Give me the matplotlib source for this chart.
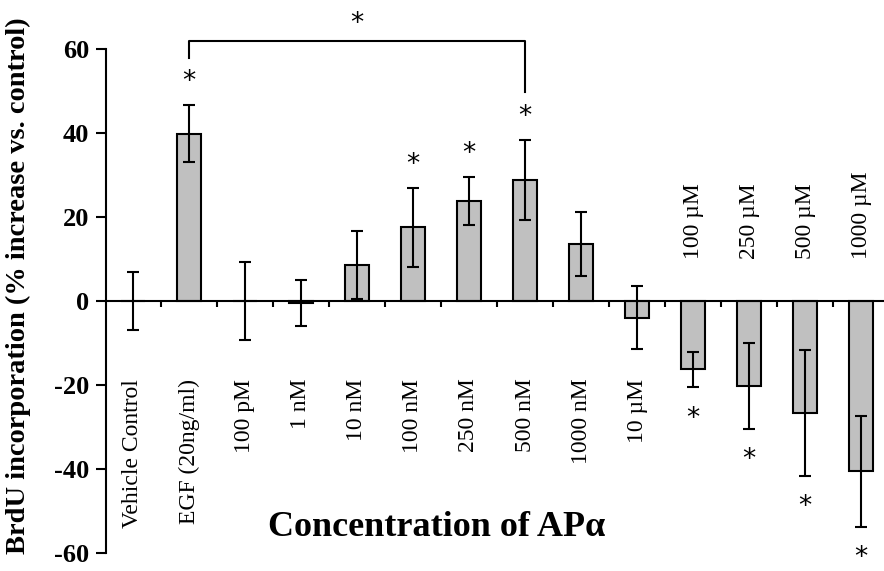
import matplotlib.pyplot as plt
import numpy as np

# categories and values
labels = ['Vehicle Control', 'EGF (20ng/ml)', '100 pM', '1 nM', '10 nM', '100 nM',
          '250 nM', '500 nM', '1000 nM', '10 µM', '100 µM', '250 µM', '500 µM', '1000 µM']
means = [0, 39.8, 0, -0.5, 8.6, 17.6, 23.8, 28.8, 13.6, -4.0, -16.3, -20.2, -26.6, -40.6]
errors = [7.0, 6.8, 9.2, 5.5, 8.0, 9.4, 5.7, 9.5, 7.7, 7.5, 4.2, 10.2, 15.0, 13.2]
signif = [False, True, False, False, False, True, True, True, False, False, True, True, True, True]

serif = ['Liberation Serif', 'DejaVu Serif']

fig = plt.figure(figsize=(8.84, 5.71), dpi=100)
ax = fig.add_axes([0.12, 0.0, 0.88, 1.0])

x = np.arange(len(labels))
ax.bar(x, means, width=0.43, color='#c0c0c0', edgecolor='black', linewidth=1.5, zorder=2)
ax.errorbar(x, means, yerr=errors, fmt='none', ecolor='black', elinewidth=1.5,
            capsize=4.5, capthick=1.5, zorder=3)

ax.set_xlim(-0.48, 13.41)
ax.set_ylim(-64.3, 71.7)

# spines
ax.spines['top'].set_visible(False)
ax.spines['right'].set_visible(False)
ax.spines['bottom'].set_position(('data', 0))
ax.spines['bottom'].set_linewidth(1.5)
ax.spines['left'].set_linewidth(1.5)
ax.spines['left'].set_bounds(-60, 60)

ax.set_yticks(np.arange(-60, 61, 20))
ax.set_yticklabels([str(v) for v in range(-60, 61, 20)], fontfamily=serif,
                   fontweight='bold', fontsize=19)
ax.tick_params(axis='y', direction='out', length=7, width=1.5, pad=5)
ax.set_xticks(x[:-1] + 0.5)
ax.set_xticklabels([])
ax.tick_params(axis='x', direction='out', length=4.5, width=1.5)

# category labels
for i, (lab, m) in enumerate(zip(labels, means)):
    if i >= 10:
        ax.text(i, 10, lab, rotation=90, ha='center', va='bottom',
                fontfamily=serif, fontsize=17)
    else:
        ax.text(i, -18.5, lab, rotation=90, ha='center', va='top',
                fontfamily=serif, fontsize=17)

# significance stars
for i, (m, e, s) in enumerate(zip(means, errors, signif)):
    if not s:
        continue
    if m > 0:
        ax.text(i, m + e + 5.5, '*', ha='center', va='center', fontsize=19)
    else:
        ax.text(i, m - e - 7.5, '*', ha='center', va='center', fontsize=19)

# bracket EGF vs 500 nM
ax.plot([1, 1, 7, 7], [57.9, 62, 62, 49.8], color='black', lw=1.5, clip_on=False)
ax.text(4, 66, '*', ha='center', va='center', fontsize=19)

ax.set_ylabel('BrdU incorporation (% increase vs. control)', fontfamily=serif,
              fontweight='bold', fontsize=20.5)
ax.yaxis.set_label_coords(-0.097, 0.5)
ax.text(5.43, -54, 'Concentration of APα', ha='center', va='center',
        fontfamily=serif, fontweight='bold', fontsize=26)

fig.savefig('out.png', dpi=100)
